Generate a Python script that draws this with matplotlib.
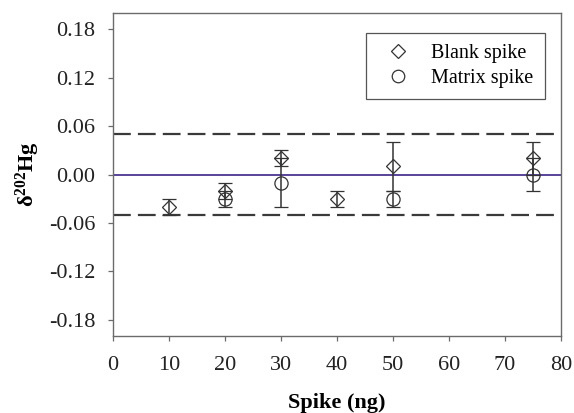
import matplotlib
matplotlib.use("Agg")
import matplotlib.pyplot as plt

plt.rcParams['font.family'] = ['Liberation Serif', 'DejaVu Serif']
plt.rcParams['mathtext.fontset'] = 'custom'
plt.rcParams['mathtext.rm'] = 'Liberation Serif'
plt.rcParams['mathtext.bf'] = 'Liberation Serif:bold'

# data
blank_x = [10, 20, 30, 40, 50, 75]
blank_y = [-0.04, -0.02, 0.02, -0.03, 0.01, 0.02]
blank_err = [0.01, 0.01, 0.01, 0.01, 0.03, 0.02]

matrix_x = [20, 30, 50, 75]
matrix_y = [-0.03, -0.01, -0.03, 0.00]
matrix_err = [0.01, 0.03, 0.01, 0.02]

yticks = [-0.18, -0.12, -0.06, 0.00, 0.06, 0.12, 0.18]
xticks = [0, 10, 20, 30, 40, 50, 60, 70, 80]
limit = 0.05

ink = '#333333'
spine_c = '#6b6b6b'

fig = plt.figure(figsize=(5.74, 4.13), dpi=100)
ax = fig.add_axes([0.197, 0.1864, 0.780, 0.782])

ax.axhline(0, color='#4b3590', lw=1.3, zorder=1)
for v in (limit, -limit):
    ax.axhline(v, color='#3a3a3a', lw=1.6, dashes=(8.0, 3.2), zorder=1)

ax.errorbar(blank_x, blank_y, yerr=blank_err, fmt='D', ms=7.5, mfc='none',
            mec=ink, mew=0.9, ecolor=ink, elinewidth=1.1, capsize=5,
            capthick=1.1, label='Blank spike', zorder=3)
ax.errorbar(matrix_x, matrix_y, yerr=matrix_err, fmt='o', ms=9.5, mfc='none',
            mec=ink, mew=0.9, ecolor=ink, elinewidth=1.1, capsize=5,
            capthick=1.1, label='Matrix spike', zorder=3)

ax.set_xlim(0, 80)
ax.set_ylim(-0.2, 0.2)
ax.set_xticks(xticks)
ax.set_yticks(yticks)
ax.set_yticklabels([f"{t:.2f}" for t in yticks])
ax.tick_params(axis='both', direction='out', length=3.6, width=0.9,
               labelsize=16, colors='#222222')
ax.tick_params(axis='both', color=spine_c)
ax.tick_params(axis='y', pad=9)
ax.tick_params(axis='x', pad=11)
for s in ax.spines.values():
    s.set_color(spine_c)
    s.set_linewidth(1.0)

ax.set_xlabel('Spike (ng)', fontsize=16, fontweight='bold', labelpad=13)
ax.set_ylabel(r'$\mathbf{\delta^{202}Hg}$', fontsize=16, labelpad=5)

handles, labels = ax.get_legend_handles_labels()
handles = [h[0] for h in handles]
leg = ax.legend(handles, labels, loc='upper right', fontsize=14.5,
                bbox_to_anchor=(0.964, 0.938), borderaxespad=0,
                fancybox=False, framealpha=1, edgecolor='#555555',
                handletextpad=0.6, borderpad=0.55, labelspacing=0.3,
                handlelength=2.1, markerscale=0.95)
leg.get_frame().set_linewidth(0.9)

fig.savefig('out.png', dpi=100)
